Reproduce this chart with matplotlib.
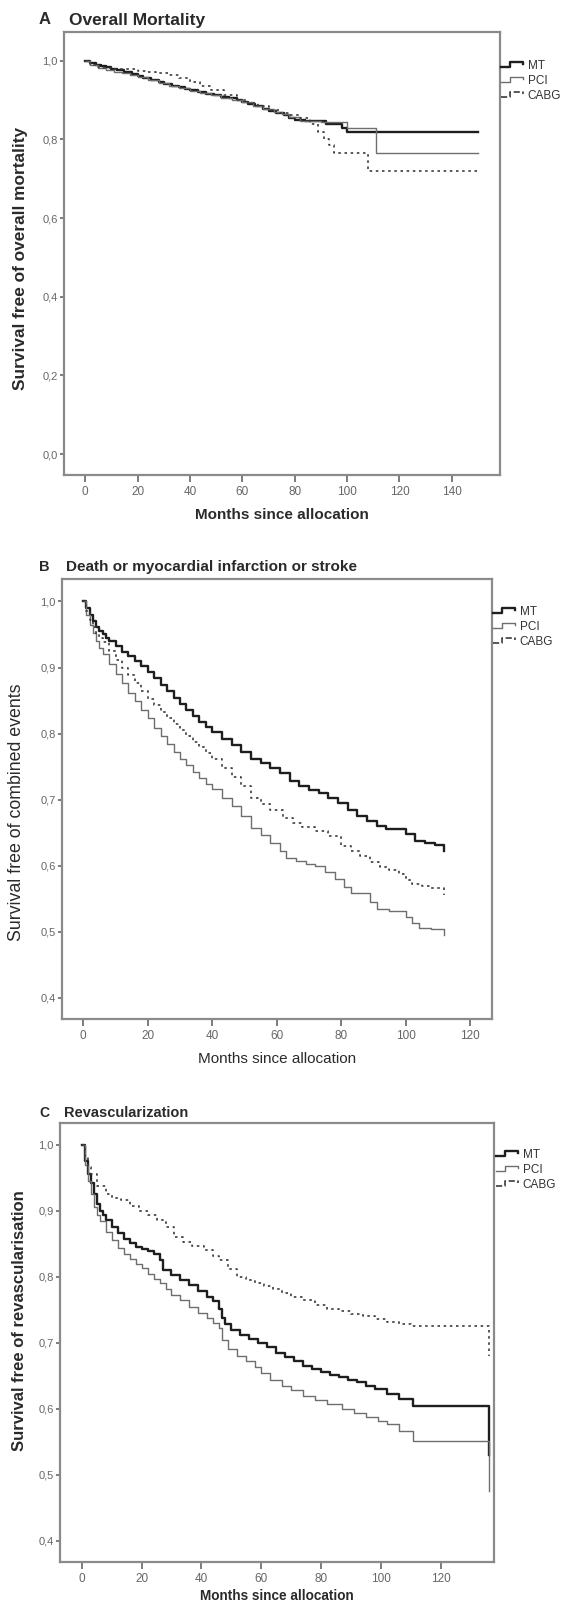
import matplotlib.pyplot as plt
from matplotlib.lines import Line2D
from matplotlib.legend_handler import HandlerBase

W, H = 573, 1605
plt.rcParams['font.family'] = ['Liberation Sans', 'DejaVu Sans']

groups = ['MT', 'PCI', 'CABG']

# A - overall mortality (months, survival)
a_mt_t = [0, 2, 4, 6, 8, 10, 12, 15, 18, 20, 22, 25, 28, 30, 33, 36, 38, 40, 43, 46, 49, 52, 55, 58,
          60, 62, 65, 68, 70, 73, 76, 78, 80, 84, 88, 92, 95, 98, 100, 150]
a_mt_s = [1.0, 0.995, 0.99, 0.987, 0.984, 0.98, 0.977, 0.972, 0.967, 0.962, 0.957, 0.951, 0.946, 0.942,
          0.937, 0.932, 0.929, 0.925, 0.92, 0.915, 0.912, 0.908, 0.904, 0.899, 0.895, 0.89, 0.884, 0.878,
          0.873, 0.867, 0.861, 0.855, 0.85, 0.847, 0.847, 0.84, 0.84, 0.83, 0.82, 0.82]
a_pci_t = [0, 2, 5, 8, 11, 14, 17, 20, 24, 28, 32, 36, 40, 44, 48, 52, 56, 60, 64, 68, 72, 75, 78, 82,
           90, 100, 111, 150]
a_pci_s = [1.0, 0.99, 0.982, 0.976, 0.972, 0.968, 0.963, 0.958, 0.95, 0.944, 0.936, 0.93, 0.924, 0.918,
           0.912, 0.906, 0.9, 0.894, 0.886, 0.878, 0.87, 0.864, 0.856, 0.848, 0.845, 0.83, 0.765, 0.765]
a_cabg_t = [0, 2, 4, 6, 10, 15, 20, 24, 27, 32, 36, 40, 44, 48, 53, 58, 62, 66, 70, 74, 78, 82, 86, 89,
            91, 93, 95, 108, 150]
a_cabg_s = [1.0, 0.99, 0.985, 0.982, 0.98, 0.978, 0.975, 0.972, 0.968, 0.964, 0.955, 0.945, 0.935, 0.925,
            0.912, 0.9, 0.892, 0.885, 0.876, 0.868, 0.862, 0.855, 0.84, 0.82, 0.80, 0.785, 0.765, 0.72, 0.72]

# B - death, MI or stroke
b_mt_t = [0, 1, 2, 3, 4, 5, 6, 7, 8, 10, 12, 14, 16, 18, 20, 22, 24, 26, 28, 30, 32, 34, 36, 38, 40,
          43, 46, 49, 52, 55, 58, 61, 64, 67, 70, 73, 76, 79, 82, 85, 88, 91, 94, 97, 100, 103, 106,
          109, 112, 112]
b_mt_s = [1.0, 0.99, 0.98, 0.97, 0.962, 0.955, 0.95, 0.945, 0.94, 0.932, 0.924, 0.917, 0.91, 0.902,
          0.893, 0.884, 0.874, 0.864, 0.854, 0.845, 0.836, 0.827, 0.818, 0.81, 0.802, 0.792, 0.782,
          0.772, 0.762, 0.755, 0.748, 0.74, 0.728, 0.72, 0.715, 0.71, 0.703, 0.695, 0.684, 0.676, 0.668,
          0.66, 0.656, 0.655, 0.648, 0.638, 0.634, 0.632, 0.63, 0.622]
b_pci_t = [0, 1, 2, 3, 4, 5, 6, 8, 10, 12, 14, 16, 18, 20, 22, 24, 26, 28, 30, 32, 34, 36, 38, 40, 43,
           46, 49, 52, 55, 58, 61, 63, 66, 69, 72, 75, 78, 81, 83, 87, 89, 91, 95, 98, 100, 102, 104,
           108, 112, 112]
b_pci_s = [1.0, 0.98, 0.965, 0.952, 0.94, 0.93, 0.92, 0.905, 0.89, 0.876, 0.862, 0.849, 0.836, 0.823,
           0.809, 0.796, 0.784, 0.772, 0.762, 0.752, 0.742, 0.733, 0.724, 0.716, 0.703, 0.69, 0.675,
           0.657, 0.646, 0.635, 0.622, 0.612, 0.607, 0.602, 0.599, 0.59, 0.58, 0.568, 0.559, 0.559,
           0.545, 0.534, 0.532, 0.531, 0.522, 0.513, 0.506, 0.504, 0.503, 0.495]
b_cabg_t = [0, 1, 2, 3, 4, 5, 6, 8, 10, 12, 14, 16, 18, 20, 22, 24, 26, 28, 30, 32, 34, 36, 38, 40, 43,
            46, 49, 52, 55, 58, 62, 65, 68, 72, 76, 80, 83, 86, 89, 92, 95, 98, 100, 102, 105, 108,
            112, 112]
b_cabg_s = [1.0, 0.985, 0.972, 0.962, 0.952, 0.945, 0.938, 0.925, 0.912, 0.9, 0.889, 0.877, 0.865,
            0.853, 0.843, 0.833, 0.823, 0.814, 0.805, 0.797, 0.788, 0.78, 0.77, 0.762, 0.748, 0.735,
            0.72, 0.703, 0.693, 0.684, 0.672, 0.665, 0.658, 0.652, 0.645, 0.63, 0.622, 0.615, 0.605,
            0.598, 0.594, 0.588, 0.579, 0.572, 0.569, 0.566, 0.561, 0.556]

# C - revascularization
c_mt_t = [0, 1, 2, 3, 4, 5, 6, 7, 8, 10, 12, 14, 16, 18, 20, 22, 24, 26, 27, 30, 33, 36, 39, 42, 44,
          46, 47, 48, 50, 53, 56, 59, 62, 65, 68, 71, 74, 77, 80, 83, 86, 89, 92, 95, 98, 102, 106,
          110.5, 136, 136]
c_mt_s = [1.0, 0.975, 0.955, 0.942, 0.925, 0.91, 0.90, 0.893, 0.886, 0.876, 0.866, 0.858, 0.851, 0.845,
          0.842, 0.839, 0.834, 0.826, 0.81, 0.802, 0.795, 0.787, 0.778, 0.77, 0.763, 0.752, 0.738,
          0.728, 0.72, 0.712, 0.706, 0.70, 0.693, 0.685, 0.678, 0.672, 0.665, 0.66, 0.656, 0.651,
          0.648, 0.644, 0.64, 0.635, 0.63, 0.623, 0.615, 0.605, 0.605, 0.53]
c_pci_t = [0, 1, 2, 3, 4, 5, 6, 8, 10, 12, 14, 16, 18, 20, 22, 24, 26, 28, 30, 33, 36, 39, 42, 44, 46,
           47, 49, 52, 55, 58, 60, 63, 67, 70, 74, 78, 82, 87, 91, 95, 99, 102, 106, 110.5, 136, 136]
c_pci_s = [1.0, 0.97, 0.945, 0.925, 0.905, 0.893, 0.884, 0.868, 0.856, 0.843, 0.834, 0.827, 0.82,
           0.813, 0.805, 0.797, 0.79, 0.782, 0.773, 0.765, 0.755, 0.745, 0.737, 0.73, 0.722, 0.705,
           0.69, 0.68, 0.672, 0.664, 0.655, 0.643, 0.635, 0.628, 0.62, 0.613, 0.607, 0.60, 0.594,
           0.587, 0.582, 0.577, 0.567, 0.552, 0.552, 0.476]
c_cabg_t = [0, 1, 2, 3, 5, 8, 10, 13, 16, 19, 22, 25, 28, 31, 34, 37, 41, 44, 46, 49, 52, 55, 58, 61,
            64, 67, 70, 74, 78, 82, 86, 90, 94, 98, 102, 106, 110, 136, 136]
c_cabg_s = [1.0, 0.982, 0.967, 0.955, 0.937, 0.925, 0.92, 0.916, 0.908, 0.9, 0.893, 0.886, 0.875,
            0.861, 0.853, 0.847, 0.84, 0.832, 0.825, 0.812, 0.80, 0.795, 0.79, 0.786, 0.781, 0.776,
            0.77, 0.765, 0.758, 0.752, 0.748, 0.744, 0.74, 0.736, 0.732, 0.728, 0.725, 0.725, 0.68]

styles = {
    'MT': dict(color='#1e1e1e', lw=1.7, ls='-'),
    'PCI': dict(color='#6e6e6e', lw=1.0, ls='-'),
    'CABG': dict(color='#3c3c3c', lw=1.2, ls=(0, (1.5, 2.2))),
}


class StepHandler(HandlerBase):
    # legend glyph: short line followed by a small step
    def create_artists(self, legend, orig_handle, xdescent, ydescent,
                       width, height, fontsize, trans):
        x0 = -xdescent
        yb = -ydescent + 0.2 * height
        yt = -ydescent + 0.8 * height
        xs = [x0, x0 + 0.4 * width, x0 + 0.4 * width, x0 + 0.95 * width, x0 + 0.95 * width]
        ys = [yb, yb, yt, yt, yb + 0.35 * height]
        ln = Line2D(xs, ys, color=orig_handle.get_color(),
                    lw=orig_handle.get_linewidth(),
                    ls=orig_handle.get_linestyle(), transform=trans)
        return [ln]


def px_rect(l, r, t, b):
    return [l / W, 1 - b / H, (r - l) / W, (b - t) / H]


def panel(rect, curves, xlim, ylim, xticks, yticks, yticklabels,
          letter, title, tpos, tsize, ylabel, ybold, ylab_xy, xbold, xsize, ysize,
          leg_xy, xpad=7):
    ax = fig.add_axes(px_rect(*rect))
    handles = []
    for g, (t, s) in zip(groups, curves):
        ln, = ax.step(t, s, where='post', **styles[g])
        handles.append(ln)
    ax.set_xlim(*xlim)
    ax.set_ylim(*ylim)
    ax.set_xticks(xticks)
    ax.set_yticks(yticks)
    ax.set_yticklabels(yticklabels)
    ax.tick_params(axis='x', direction='out', length=5, width=1.2, color='#666666',
                   labelsize=8.5, labelcolor='#666666', pad=3)
    ax.tick_params(axis='y', direction='out', length=3, width=1.2, color='#666666',
                   labelsize=8, labelcolor='#666666', pad=1.5)
    for sp in ax.spines.values():
        sp.set_color('#8a8a8a')
        sp.set_linewidth(1.6)
    ax.set_xlabel('Months since allocation', fontsize=xsize,
                  fontweight='bold' if xbold else 'normal', color='#2a2a2a', labelpad=xpad)
    ax.set_ylabel(ylabel, fontsize=ysize, fontweight='bold' if ybold else 'normal',
                  color='#2a2a2a')
    ax.yaxis.set_label_coords(*ylab_xy)
    fig.text(39 / W, 1 - tpos[1] / H, letter, fontsize=tsize - 0.5, fontweight='bold',
             va='center', color='#2a2a2a')
    fig.text(tpos[0] / W, 1 - tpos[1] / H, title, fontsize=tsize, fontweight='bold',
             va='center', color='#2a2a2a')
    ax.legend(handles=handles, labels=groups, handler_map={Line2D: StepHandler()},
              loc='upper left', bbox_to_anchor=(leg_xy[0] / W, 1 - leg_xy[1] / H),
              bbox_transform=fig.transFigure, frameon=False, fontsize=8.5,
              handlelength=2.0, handletextpad=0.25, labelspacing=0.25,
              borderpad=0, borderaxespad=0, labelcolor='#333333')
    return ax


fig = plt.figure(figsize=(W / 100, H / 100), dpi=100)

panel((64, 500, 32, 475),
      [(a_mt_t, a_mt_s), (a_pci_t, a_pci_s), (a_cabg_t, a_cabg_s)],
      (-8.1, 158.4), (-0.053, 1.073),
      [0, 20, 40, 60, 80, 100, 120, 140],
      [0.0, 0.2, 0.4, 0.6, 0.8, 1.0], ['0,0', '0,2', '0,4', '0,6', '0,8', '1,0'],
      'A', 'Overall Mortality', (69, 20), 12.5,
      'Survival free of overall mortality', True, (-0.083, 0.488), True, 11, 12.4,
      (501, 60))

panel((62, 492, 579, 1019),
      [(b_mt_t, b_mt_s), (b_pci_t, b_pci_s), (b_cabg_t, b_cabg_s)],
      (-6.6, 126.8), (0.368, 1.034),
      [0, 20, 40, 60, 80, 100, 120],
      [0.4, 0.5, 0.6, 0.7, 0.8, 0.9, 1.0], ['0,4', '0,5', '0,6', '0,7', '0,8', '0,9', '1,0'],
      'B', 'Death or myocardial infarction or stroke', (66, 567), 11,
      'Survival free of combined events', False, (-0.085, 0.469), False, 11, 12.75,
      (493, 606))

panel((60, 494, 1123, 1562),
      [(c_mt_t, c_mt_s), (c_pci_t, c_pci_s), (c_cabg_t, c_cabg_s)],
      (-7.2, 137.6), (0.368, 1.033),
      [0, 20, 40, 60, 80, 100, 120],
      [0.4, 0.5, 0.6, 0.7, 0.8, 0.9, 1.0], ['0,4', '0,5', '0,6', '0,7', '0,8', '0,9', '1,0'],
      'C', 'Revascularization', (64, 1113), 10.5,
      'Survival free of revascularisation', True, (-0.076, 0.55), True, 9.8, 12,
      (496, 1149), xpad=3)

fig.savefig('out.png', dpi=100)
